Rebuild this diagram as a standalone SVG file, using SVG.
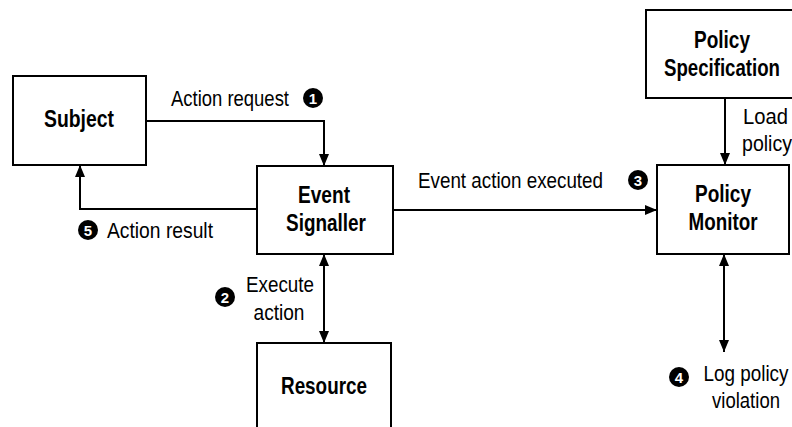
<svg xmlns="http://www.w3.org/2000/svg" width="792" height="427" viewBox="0 0 792 427">
  <style>
    .box { fill: #ffffff; stroke: #000000; stroke-width: 2; }
    .title { font-family: "Liberation Sans Narrow", "Arial Narrow", "Liberation Sans", sans-serif; font-weight: bold; font-size: 23px; fill: #000000; text-anchor: middle; }
    .label { font-family: "Liberation Sans Narrow", "Arial Narrow", "Liberation Sans", sans-serif; font-size: 22.5px; fill: #000000; }
    .mid { text-anchor: middle; }
    .wire { fill: none; stroke: #000000; stroke-width: 2; }
    .badge circle { fill: #000000; }
    .badge text { font-family: "Liberation Sans", Arial, sans-serif; font-weight: bold; font-size: 15px; fill: #ffffff; text-anchor: middle; }
  </style>
  <defs>
    <marker id="arrow" markerUnits="userSpaceOnUse" markerWidth="12" markerHeight="12" refX="12" refY="6" orient="auto-start-reverse" viewBox="0 0 12 12">
      <path d="M0,1 L12,6 L0,11 z" fill="#000000"/>
    </marker>
  </defs>

  <rect width="792" height="427" fill="#ffffff"/>

  <!-- connectors and their labels -->
  <g id="connectors">
    <path class="wire" d="M146,121 H324 V166" marker-end="url(#arrow)"/>
    <path class="wire" d="M257,209 H80 V165" marker-end="url(#arrow)"/>
    <path class="wire" d="M393,210 H657" marker-end="url(#arrow)"/>
    <path class="wire" d="M725,98 V165" marker-end="url(#arrow)"/>
    <path class="wire" d="M324,254 V343" marker-start="url(#arrow)" marker-end="url(#arrow)"/>
    <path class="wire" d="M724,254 V352" marker-start="url(#arrow)" marker-end="url(#arrow)"/>

    <text class="label" x="171" y="106" textLength="118" lengthAdjust="spacingAndGlyphs">Action request</text>
    <text class="label" x="107" y="238" textLength="106" lengthAdjust="spacingAndGlyphs">Action result</text>
    <text class="label" x="418" y="188" textLength="185" lengthAdjust="spacingAndGlyphs">Event action executed</text>
    <text class="label mid" x="280" y="292" textLength="68" lengthAdjust="spacingAndGlyphs">Execute</text>
    <text class="label mid" x="279" y="320" textLength="51" lengthAdjust="spacingAndGlyphs">action</text>
    <text class="label" x="743" y="124" textLength="45" lengthAdjust="spacingAndGlyphs">Load</text>
    <text class="label" x="742" y="151" textLength="50" lengthAdjust="spacingAndGlyphs">policy</text>
    <text class="label mid" x="746" y="381" textLength="85" lengthAdjust="spacingAndGlyphs">Log policy</text>
    <text class="label mid" x="746" y="408" textLength="68" lengthAdjust="spacingAndGlyphs">violation</text>

    <g class="badge"><circle cx="313" cy="98" r="10"/><text x="313" y="103.5">1</text></g>
    <g class="badge"><circle cx="225" cy="297" r="10"/><text x="225" y="302.5">2</text></g>
    <g class="badge"><circle cx="638" cy="180" r="10"/><text x="638" y="185.5">3</text></g>
    <g class="badge"><circle cx="679" cy="377" r="10"/><text x="679" y="382.5">4</text></g>
    <g class="badge"><circle cx="88" cy="230" r="10"/><text x="88" y="235.5">5</text></g>
  </g>

  <!-- nodes -->
  <g id="subject">
    <rect class="box" x="13" y="76" width="133" height="89"/>
    <text class="title" x="79" y="127" textLength="70" lengthAdjust="spacingAndGlyphs">Subject</text>
  </g>
  <g id="event-signaller">
    <rect class="box" x="257" y="166" width="136" height="88"/>
    <text class="title" x="324" y="203" textLength="52" lengthAdjust="spacingAndGlyphs">Event</text>
    <text class="title" x="326" y="231" textLength="80" lengthAdjust="spacingAndGlyphs">Signaller</text>
  </g>
  <g id="resource">
    <rect class="box" x="257" y="343" width="134" height="100"/>
    <text class="title" x="324" y="394" textLength="86" lengthAdjust="spacingAndGlyphs">Resource</text>
  </g>
  <g id="policy-specification">
    <rect class="box" x="646" y="10" width="156" height="88"/>
    <text class="title" x="722" y="48" textLength="56" lengthAdjust="spacingAndGlyphs">Policy</text>
    <text class="title" x="722" y="76" textLength="116" lengthAdjust="spacingAndGlyphs">Specification</text>
  </g>
  <g id="policy-monitor">
    <rect class="box" x="657" y="165" width="132" height="89"/>
    <text class="title" x="723" y="202" textLength="56" lengthAdjust="spacingAndGlyphs">Policy</text>
    <text class="title" x="723" y="230" textLength="69" lengthAdjust="spacingAndGlyphs">Monitor</text>
  </g>
</svg>
